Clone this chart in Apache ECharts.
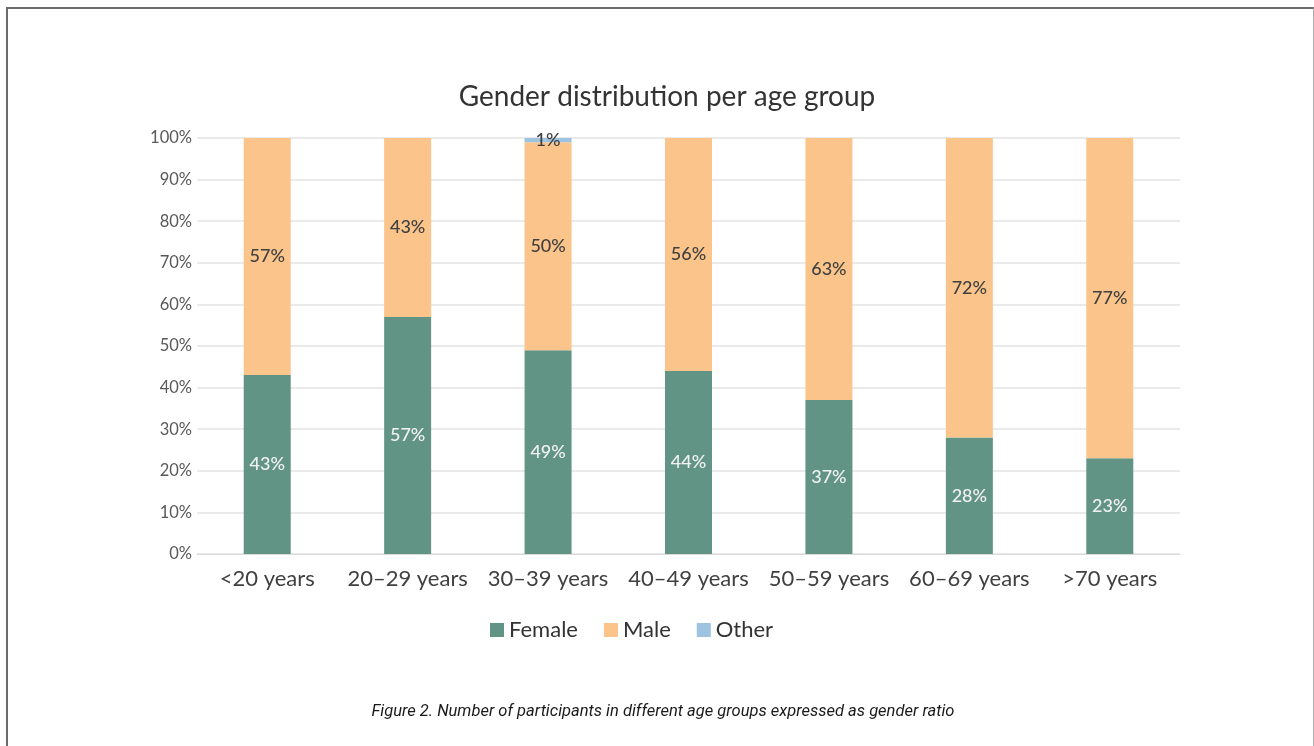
<!DOCTYPE html>
<html>
<head>
<meta charset="utf-8">
<script src="https://cdn.jsdelivr.net/npm/echarts@6/dist/echarts.min.js"></script>
<style>
html,body{margin:0;padding:0;background:#fff;width:1314px;height:746px;overflow:hidden;}
#frame{position:absolute;left:6px;top:7px;width:1305px;height:800px;border-left:2px solid #6b6b6b;border-top:2px solid #6b6b6b;border-right:1px solid #b0b0b0;}
#chart{position:absolute;left:0;top:0;width:1314px;height:746px;}
</style>
</head>
<body>
<div id="frame"></div>
<div id="chart"></div>
<script>
var categories = ['<20 years','20–29 years','30–39 years','40–49 years','50–59 years','60–69 years','>70 years'];
var female = [43, 57, 49, 44, 37, 28, 23];
var male = [57, 43, 50, 56, 63, 72, 77];
var other = [0, 0, 1, 0, 0, 0, 0];
var yTicks = [0,10,20,30,40,50,60,70,80,90,100];

var chart = echarts.init(document.getElementById('chart'));
var fontC = 'Lato, "Open Sans", sans-serif';
function lbl(color){
  return {show:true, position:'inside', color:color, fontSize:18, fontFamily:fontC, fontWeight:500,
    formatter:function(p){return p.value>0 ? p.value+'%' : '';}};
}
chart.setOption({
  animation:false,
  backgroundColor:'transparent',
  title:[
    {text:'Gender distribution per age group', left:662, textAlign:'center', top:78,
     textStyle:{fontFamily:fontC, fontSize:28, fontWeight:'normal', color:'#333333'}},
    {text:'Figure 2. Number of participants in different age groups expressed as gender ratio',
     left:658, textAlign:'center', top:698,
     textStyle:{fontFamily:'Roboto, "Open Sans", sans-serif', fontSize:16.5, fontStyle:'italic', fontWeight:'normal', color:'#1a1a1a'}}
  ],
  legend:{
    data:['Female','Male','Other'], top:614, left:485,
    itemWidth:14, itemHeight:14, itemGap:26, icon:'rect',
    textStyle:{fontFamily:fontC, fontSize:22, color:'#333333'}
  },
  grid:{left:197, right:134, top:138, bottom:192},
  xAxis:{
    type:'category', data:categories,
    axisLine:{show:true, lineStyle:{color:'#d9d9d9'}},
    axisTick:{show:false},
    axisLabel:{fontFamily:fontC, fontSize:22, color:'#404040', margin:14, interval:0, hideOverlap:false}
  },
  yAxis:{
    type:'value', min:0, max:100, interval:10,
    axisLabel:{fontFamily:fontC, fontSize:16.5, color:'#595959', margin:5,
      formatter:function(v){return yTicks.indexOf(v)>=0 ? v+'%' : '';}},
    splitLine:{lineStyle:{color:'#e3e3e3', width:1.5}},
    axisLine:{show:false}, axisTick:{show:false}
  },
  series:[
    {name:'Female', type:'bar', stack:'g', data:female, barWidth:47,
     itemStyle:{color:'#629486'}, label:lbl('#f2f2f2')},
    {name:'Male', type:'bar', stack:'g', data:male,
     itemStyle:{color:'#fbc48a'}, label:lbl('#404040')},
    {name:'Other', type:'bar', stack:'g', data:other,
     itemStyle:{color:'#9dc3e0'}, label:lbl('#404040')}
  ]
});
</script>
</body>
</html>
